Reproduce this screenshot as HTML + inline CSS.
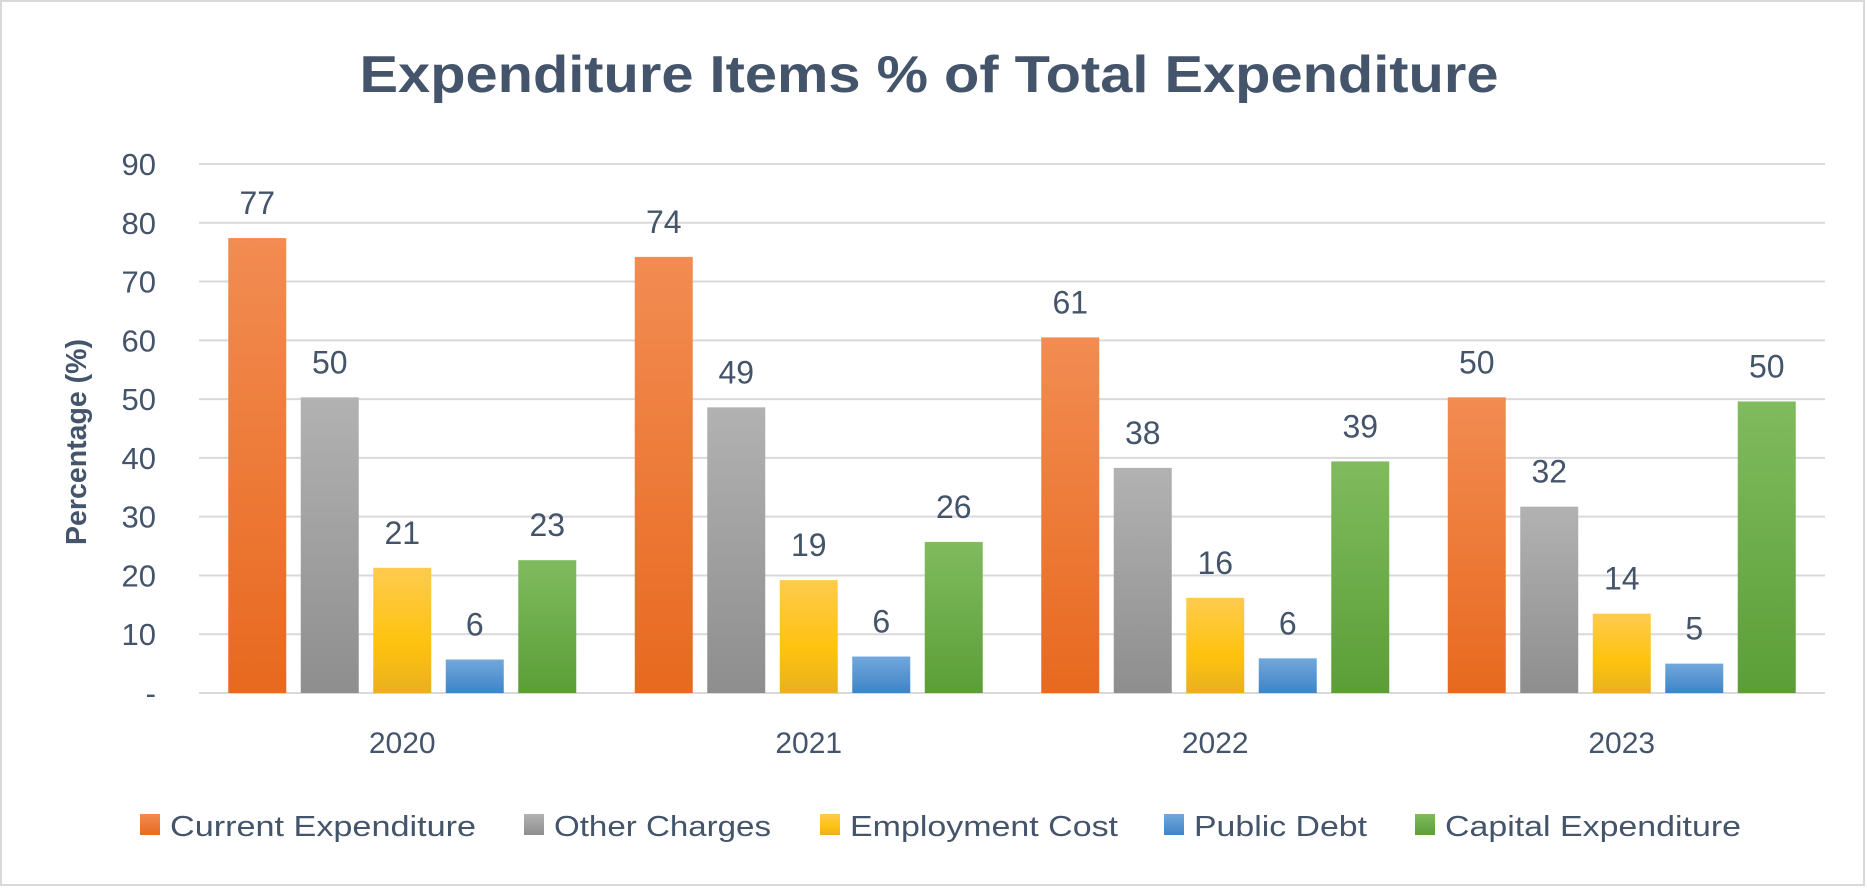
<!DOCTYPE html>
<html><head><meta charset="utf-8"><style>
html,body{margin:0;padding:0;background:#fff;}
svg{display:block;font-family:"Liberation Sans",sans-serif;}
</style></head><body>
<svg id="chart" width="1867" height="889" viewBox="0 0 1867 889">
<defs>
<linearGradient id="g0" x1="0" y1="0" x2="0" y2="1"><stop offset="0" stop-color="#f28c52"/><stop offset="1" stop-color="#e8691f"/></linearGradient>
<linearGradient id="g1" x1="0" y1="0" x2="0" y2="1"><stop offset="0" stop-color="#b2b2b2"/><stop offset="1" stop-color="#8e8e8e"/></linearGradient>
<linearGradient id="g2" x1="0" y1="0" x2="0" y2="1"><stop offset="0" stop-color="#ffcb4e"/><stop offset="0.6" stop-color="#fec30e"/><stop offset="1" stop-color="#e9b020"/></linearGradient>
<linearGradient id="g3" x1="0" y1="0" x2="0" y2="1"><stop offset="0" stop-color="#72a8dc"/><stop offset="1" stop-color="#3e84c8"/></linearGradient>
<linearGradient id="g4" x1="0" y1="0" x2="0" y2="1"><stop offset="0" stop-color="#80bb5e"/><stop offset="1" stop-color="#5b9e37"/></linearGradient>
</defs>
<rect x="1" y="1" width="1863" height="884" fill="#fff" stroke="#d9d9d9" stroke-width="2"/>
<text x="929" y="92" text-anchor="middle" font-size="52" font-weight="bold" fill="#44546a" textLength="1139" lengthAdjust="spacingAndGlyphs">Expenditure Items % of Total Expenditure</text>
<text transform="translate(86,442) rotate(-90)" text-anchor="middle" font-size="29" font-weight="bold" fill="#44546a" textLength="206" lengthAdjust="spacingAndGlyphs">Percentage (%)</text>
<g id="grid"></g><g id="bars"></g><g id="legend"></g>
</svg>
<script>
const categories = ["2020","2021","2022","2023"];
const seriesNames = ["Current Expenditure","Other Charges","Employment Cost","Public Debt","Capital Expenditure"];
const currentExp = [77.4, 74.2, 60.5, 50.3];
const otherCharges = [50.3, 48.6, 38.3, 31.7];
const employmentCost = [21.3, 19.2, 16.2, 13.5];
const publicDebt = [5.7, 6.2, 5.9, 5.0];
const capitalExp = [22.6, 25.7, 39.4, 49.6];
const yTicks = [0,10,20,30,40,50,60,70,80,90];
const yTickLabels = ["-","10","20","30","40","50","60","70","80","90"];

const NS = "http://www.w3.org/2000/svg";
const series = [currentExp, otherCharges, employmentCost, publicDebt, capitalExp];
const fills = ["url(#g0)","url(#g1)","url(#g2)","url(#g3)","url(#g4)"];
const plotL = 199, plotR = 1825, y0 = 693, yTop = 164, yMax = 90;
const yScale = v => y0 - (v / yMax) * (y0 - yTop);
const groupW = (plotR - plotL) / categories.length;
const xCenter = i => plotL + groupW * (i + 0.5);
const barW = 58, step = 72.5;
function mk(tag, attrs, parent, txt){const e=document.createElementNS(NS,tag);for(const k in attrs)e.setAttribute(k,attrs[k]);if(txt!==undefined)e.textContent=txt;parent.appendChild(e);return e;}
const grid = document.getElementById("grid");
yTicks.forEach((t,i)=>{
  const l = mk("line",{x1:plotL,x2:plotR,y1:yScale(t),y2:yScale(t),stroke:"#d9d9d9","stroke-width":2},grid);
  
  
  const tx = mk("text",{x:156,y:yScale(t)+11,"text-anchor":"end","font-size":31,fill:"#44546a"},grid,yTickLabels[i]);
  
  
});
const bars = document.getElementById("bars");
categories.forEach((c,i)=>{
  const cx = xCenter(i);
  series.forEach((s,j)=>{
    const x = cx - 2*step - barW/2 + j*step;
    const top = yScale(s[i]);
    const r = mk("rect",{x:x,y:top,width:barW,height:y0-top,fill:fills[j]},bars);
    
    
    const lab = mk("text",{x:x+barW/2,y:top-24,"text-anchor":"middle","font-size":32,fill:"#44546a"},bars,String(Math.round(s[i])));
    
    
  });
  const ct = mk("text",{x:cx,y:753,"text-anchor":"middle","font-size":30,fill:"#44546a"},bars,c);
  
  
});
const legend = document.getElementById("legend");
const legX = [140, 524, 820, 1164, 1415];
const legW = [306, 217, 268, 173, 296];
seriesNames.forEach((n,j)=>{
  const g = mk("g",{},legend);
  
  
  mk("rect",{x:legX[j],y:814,width:20,height:21,fill:fills[j]},g);
  mk("text",{x:legX[j]+30,y:836,"font-size":29,fill:"#44546a",textLength:legW[j],lengthAdjust:"spacingAndGlyphs"},g,n);
});
</script>
</body></html>
